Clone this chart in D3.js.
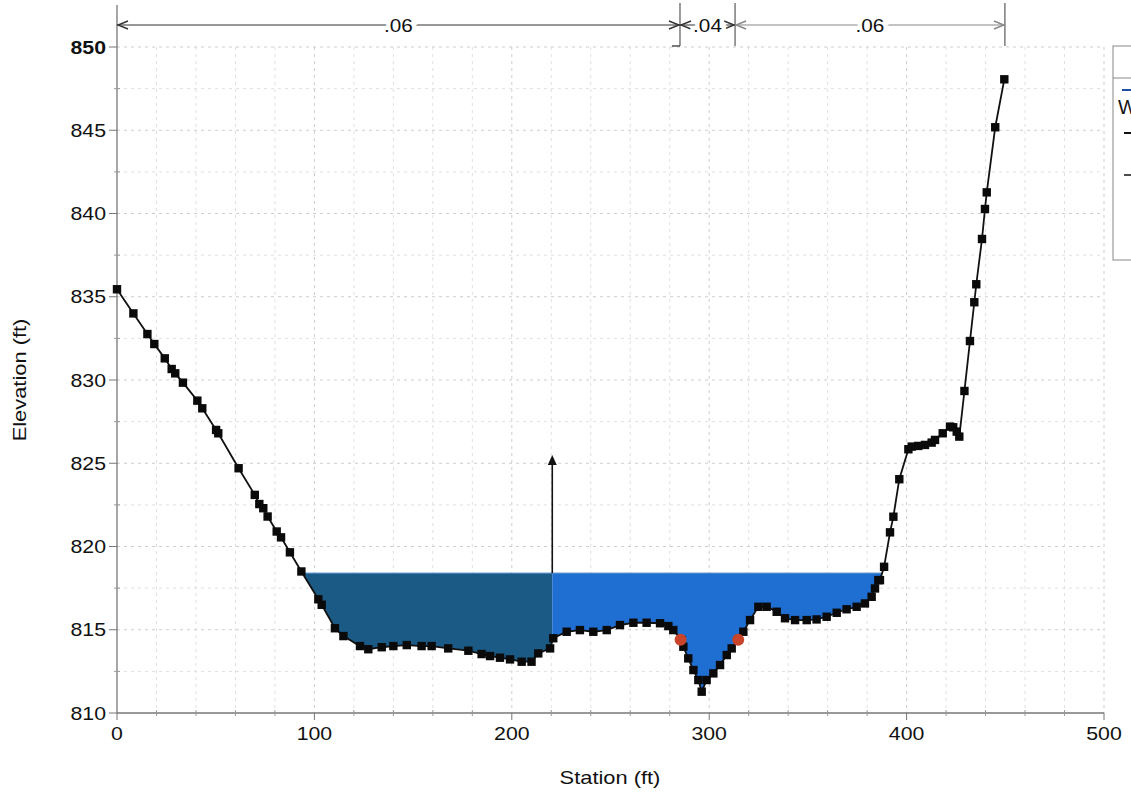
<!DOCTYPE html>
<html><head><meta charset="utf-8">
<script src="https://cdn.jsdelivr.net/npm/d3@7/dist/d3.min.js"></script>
<style>
body{margin:0;background:#fff}
text{font-family:"Liberation Sans",Arial,Helvetica,sans-serif;fill:#111}
</style>
</head><body><svg id="c" width="1131" height="794"></svg>
<script>
// ---- data ----
const stations = [0, 8.3, 15.4, 18.9, 24.2, 27.7, 29.5, 33.4, 40.7, 43.2, 50.2, 51.3, 61.6, 69.8, 72.1, 74.1, 76.3, 80.9, 83.1, 87.6, 93.4,
  102.0, 103.7, 110.4, 114.7, 123.1, 127.3, 134.1, 140.0, 146.8, 154.3, 159.4, 167.8, 178.0, 184.7, 189.0, 194.0, 199.1, 205.0, 210.0, 213.4, 219.4,
  221.0, 227.8, 234.5, 241.3, 248.1, 254.8, 261.6, 268.3, 275.1, 279.3, 281.8, 286.1, 286.9, 289.4, 292.0, 294.5, 296.2, 298.7, 302.1, 305.5, 308.9, 311.4, 314.7, 317.3, 320.7, 324.9, 329.1, 334.2, 338.4, 343.5, 349.4, 354.4, 359.5, 364.6, 369.6, 374.7, 378.9, 382.3, 384.0, 385.7, 386.5, 388.6,
  391.6, 393.3, 396.3, 400.9, 402.6, 405.9, 409.3, 412.7, 414.4, 418.3, 422.0, 423.6, 425.4, 426.7, 429.3, 432.1, 434.3, 435.3, 438.2, 439.7, 440.6, 444.9, 449.5];
const elevations = [835.45, 834.0, 832.76, 832.16, 831.3, 830.66, 830.4, 829.84, 828.76, 828.3, 827.0, 826.8, 824.7, 823.1, 822.55, 822.3, 821.8, 820.9, 820.55, 819.65, 818.5,
  816.83, 816.5, 815.09, 814.62, 814.02, 813.83, 813.95, 814.02, 814.08, 814.02, 814.02, 813.88, 813.74, 813.54, 813.42, 813.32, 813.22, 813.08, 813.08, 813.58, 813.88,
  814.49, 814.88, 814.98, 814.88, 814.98, 815.28, 815.42, 815.42, 815.39, 815.22, 814.98, 814.38, 813.98, 813.28, 812.58, 811.98, 811.28, 811.98, 812.38, 812.88, 813.48, 813.88, 814.43, 814.88, 815.58, 816.38, 816.38, 816.08, 815.69, 815.58, 815.58, 815.62, 815.78, 816.02, 816.23, 816.38, 816.58, 816.98, 817.48, 817.98, 817.98, 818.78,
  820.85, 821.79, 824.04, 825.84, 826.0, 826.04, 826.1, 826.24, 826.4, 826.8, 827.2, 827.16, 826.9, 826.6, 829.34, 832.34, 834.67, 835.75, 838.47, 840.27, 841.27, 845.18, 848.06];
const bankStations = [285.5, 314.7];
const bankElevations = [814.4, 814.4];
const wsElevation = 818.4;
const flowSplitStation = 220.5;
const splitArrowTop = 825.5;
const nLabels = [".06", ".04", ".06"];
const nBreaks = [0, 285.2, 313.1, 449.8];
const xTicks = [0, 100, 200, 300, 400, 500];
const yTicks = [810, 815, 820, 825, 830, 835, 840, 845, 850];
const legendLabels = ["WS PF 1"];

// ---- helpers ----
function widen(sel, f){
  sel.each(function(){
    const w = this.getComputedTextLength();
    d3.select(this).attr("textLength", w*f).attr("lengthAdjust","spacingAndGlyphs");
  });
  return sel;
}

// ---- chart ----
const svg = d3.select("#c");
svg.append("rect").attr("width",1131).attr("height",794).attr("fill","#fff");
const x = d3.scaleLinear().domain([0,500]).range([117,1104]);
const y = d3.scaleLinear().domain([810,850]).range([713,47]);

// grid
const grid = svg.append("g");
grid.selectAll("line.v").data(d3.range(20,501,20)).join("line")
  .attr("x1",d=>x(d)).attr("x2",d=>x(d)).attr("y1",y(850)).attr("y2",y(810))
  .attr("stroke",d=>d%100===0?"#cdcdcd":"#e0e0e0").attr("stroke-width",1).attr("stroke-dasharray","3,4");
grid.selectAll("line.h").data(d3.range(812.5,850.01,2.5)).join("line")
  .attr("x1",x(0)).attr("x2",x(500)).attr("y1",d=>y(d)).attr("y2",d=>y(d))
  .attr("stroke",d=>d%5===0?"#cdcdcd":"#e0e0e0").attr("stroke-width",1).attr("stroke-dasharray","3,4");

// water polygon (ground below ws)
const pts = stations.map((s,i)=>[s,elevations[i]]);
const poly = [];
for (let i=0;i<pts.length;i++){
  const [s,e] = pts[i];
  if (i>0){
    const [ps,pe] = pts[i-1];
    if ((pe>wsElevation) !== (e>wsElevation)){
      const t = (wsElevation-pe)/(e-pe);
      poly.push([ps+t*(s-ps), wsElevation]);
    }
  }
  if (e<=wsElevation) poly.push([s,e]);
}
const waterPath = d3.line().x(d=>x(d[0])).y(d=>y(d[1]))(poly)+"Z";
const defs = svg.append("defs");
defs.append("clipPath").attr("id","cl").append("rect")
  .attr("x",0).attr("y",0).attr("width",x(flowSplitStation)).attr("height",794);
defs.append("clipPath").attr("id","cr").append("rect")
  .attr("x",x(flowSplitStation)).attr("y",0).attr("width",1131).attr("height",794);
svg.append("path").attr("d",waterPath).attr("fill","#1b5a85").attr("clip-path","url(#cl)");
svg.append("path").attr("d",waterPath).attr("fill","#1f6ed2").attr("clip-path","url(#cr)");
svg.append("line").attr("x1",x(poly[0][0])).attr("x2",x(poly[poly.length-1][0]))
  .attr("y1",y(wsElevation)).attr("y2",y(wsElevation)).attr("stroke","#3f7fc0").attr("stroke-width",1);

// split arrow
svg.append("line").attr("x1",x(flowSplitStation)).attr("x2",x(flowSplitStation))
  .attr("y1",y(wsElevation)).attr("y2",y(splitArrowTop)+8).attr("stroke","#111").attr("stroke-width",1.6);
svg.append("path").attr("d",`M${x(flowSplitStation)},${y(splitArrowTop)} l-4.5,10 l9,0 Z`).attr("fill","#111");

// axes
svg.append("line").attr("x1",x(0)).attr("x2",x(0)).attr("y1",5).attr("y2",y(810)).attr("stroke","#777").attr("stroke-width",1.3);
svg.append("line").attr("x1",x(0)).attr("x2",x(500)).attr("y1",y(810)).attr("y2",y(810)).attr("stroke","#777").attr("stroke-width",1.3);
svg.selectAll("line.yt").data(yTicks).join("line")
  .attr("x1",x(0)-8).attr("x2",x(0)).attr("y1",d=>y(d)).attr("y2",d=>y(d)).attr("stroke","#777");
svg.selectAll("line.ym").data(d3.range(812.5,850,5)).join("line")
  .attr("x1",x(0)-3).attr("x2",x(0)+3).attr("y1",d=>y(d)).attr("y2",d=>y(d)).attr("stroke","#999");
widen(svg.selectAll("text.yl").data(yTicks).join("text")
  .attr("x",x(0)-11).attr("y",d=>y(d)).attr("dy","0.36em").attr("text-anchor","end")
  .attr("font-size",18.5).attr("font-weight",d=>d===850?"bold":"normal").text(d=>d), 1.15);
svg.selectAll("line.xt").data(xTicks).join("line")
  .attr("x1",d=>x(d)).attr("x2",d=>x(d)).attr("y1",y(810)).attr("y2",y(810)+7).attr("stroke","#777");
svg.selectAll("line.xm").data(d3.range(20,500,20).filter(d=>d%100!==0)).join("line")
  .attr("x1",d=>x(d)).attr("x2",d=>x(d)).attr("y1",y(810)-3).attr("y2",y(810)+3).attr("stroke","#999");
widen(svg.selectAll("text.xl").data(xTicks).join("text")
  .attr("x",d=>x(d)).attr("y",740).attr("text-anchor","middle").attr("font-size",18.5).text(d=>d), 1.15);

// axis titles
widen(svg.append("text").attr("x",610).attr("y",784).attr("text-anchor","middle").attr("font-size",19).text("Station (ft)"), 1.15);
widen(svg.append("text").attr("transform","translate(26,380) rotate(-90)").attr("text-anchor","middle").attr("font-size",19).text("Elevation (ft)"), 1.15);

// ground line and markers
svg.append("path").attr("d",d3.line().x(d=>x(d[0])).y(d=>y(d[1]))(pts))
  .attr("fill","none").attr("stroke","#111").attr("stroke-width",1.8);
svg.selectAll("rect.m").data(pts).join("rect")
  .attr("x",d=>x(d[0])-4.2).attr("y",d=>y(d[1])-4.2).attr("width",8.4).attr("height",8.4).attr("fill","#0a0a0a");
svg.selectAll("circle.b").data(bankStations).join("circle")
  .attr("cx",d=>x(d)).attr("cy",(d,i)=>y(bankElevations[i])).attr("r",6).attr("fill","#c8452b");

// Manning's n annotation
const ny = 25;
const ann = svg.append("g");
nBreaks.slice(1).forEach(b=>{
  ann.append("line").attr("x1",x(b)).attr("x2",x(b)).attr("y1",3).attr("y2",46).attr("stroke","#666").attr("stroke-width",1.3);
});
ann.append("line").attr("x1",x(nBreaks[1])-8).attr("x2",x(nBreaks[1])).attr("y1",46).attr("y2",46).attr("stroke","#333").attr("stroke-width",1.3);
nLabels.forEach((lab,i)=>{
  const x0 = x(nBreaks[i]), x1 = x(nBreaks[i+1]);
  const col = i===2 ? "#888" : "#333";
  ann.append("line").attr("x1",x0).attr("x2",x1).attr("y1",ny).attr("y2",ny).attr("stroke",col).attr("stroke-width",1.1);
  ann.append("path").attr("d",`M${x0+11},${ny-4} L${x0+1},${ny} L${x0+11},${ny+4}`).attr("fill","none").attr("stroke",col).attr("stroke-width",1.4);
  ann.append("path").attr("d",`M${x1-11},${ny-4} L${x1-1},${ny} L${x1-11},${ny+4}`).attr("fill","none").attr("stroke",col).attr("stroke-width",1.4);
  widen(ann.append("text").attr("x",(x0+x1)/2).attr("y",ny).attr("dy","0.36em").attr("text-anchor","middle")
    .attr("font-size",18.5).attr("stroke","#fff").attr("stroke-width",8).attr("paint-order","stroke").text(lab), 1.12);
});

// legend (runs off the page edge as in the reference)
const lg = svg.append("g");
lg.append("rect").attr("x",1113).attr("y",46).attr("width",160).attr("height",214).attr("fill","#fff").attr("stroke","#888");
lg.append("line").attr("x1",1113).attr("x2",1273).attr("y1",78).attr("y2",78).attr("stroke","#888");
lg.append("line").attr("x1",1122).attr("x2",1150).attr("y1",90).attr("y2",90).attr("stroke","#1f4fa0").attr("stroke-width",2);
lg.append("text").attr("x",1118).attr("y",114).attr("font-size",20).text(legendLabels[0]);
lg.append("line").attr("x1",1124).attr("x2",1150).attr("y1",133).attr("y2",133).attr("stroke","#111").attr("stroke-width",2);
lg.append("line").attr("x1",1124).attr("x2",1150).attr("y1",175).attr("y2",175).attr("stroke","#111").attr("stroke-width",1.5);
</script></body></html>
